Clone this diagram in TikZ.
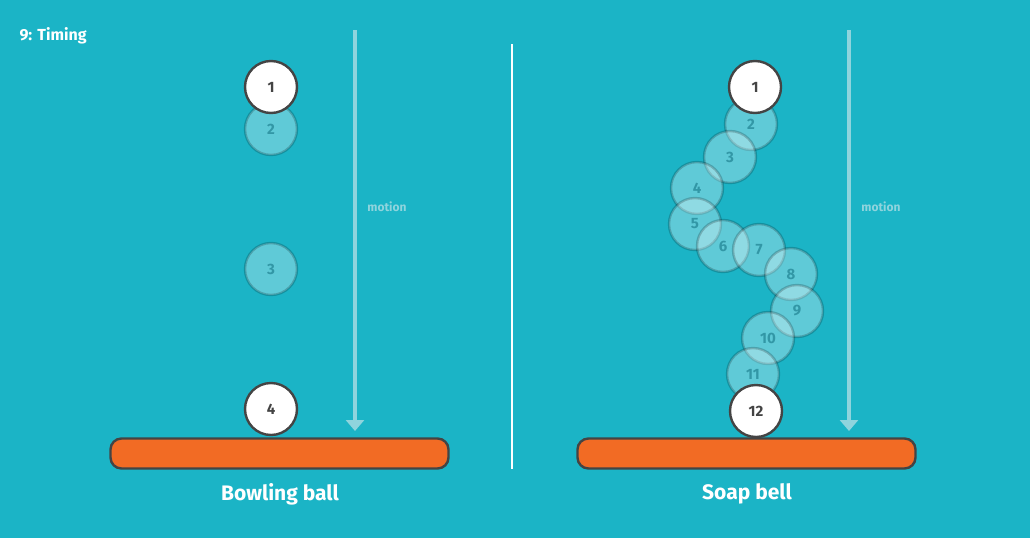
\documentclass[tikz,border=0pt]{standalone}
\usepackage{fontspec}
\setmainfont{Fira Sans}
\usetikzlibrary{arrows.meta}
\definecolor{bg}{HTML}{1BB4C6}
\definecolor{ink}{HTML}{444444}
\definecolor{fadetxt}{HTML}{3297A6}
\definecolor{arrowc}{HTML}{8FD4DD}
\definecolor{plat}{HTML}{F26B24}
\tikzset{
  solidball/.style={circle, draw=ink, line width=2.4pt, fill=white, minimum size=52pt, inner sep=0pt, font=\bfseries\fontsize{15}{15}\selectfont, text=ink},
  fadeball/.style={circle, draw=black, draw opacity=0.2, line width=2.4pt, fill=white, fill opacity=0.3, text opacity=1, minimum size=52pt, inner sep=0pt, font=\bfseries\fontsize{15}{15}\selectfont, text=fadetxt},
  platform/.style={draw=ink, line width=2.4pt, fill=plat, rounded corners=11pt, minimum width=338pt, minimum height=30pt, inner sep=0pt},
  motionarrow/.style={draw=arrowc, line width=3.4pt, -{Triangle[width=18pt,length=11pt]}},
  motionlbl/.style={text=arrowc, font=\bfseries\fontsize{12}{12}\selectfont},
  caption/.style={text=white, font=\bfseries\fontsize{21}{22}\selectfont},
}
\begin{document}
\begin{tikzpicture}[x=1pt,y=-1pt]
\fill[bg] (0,0) rectangle (1030,538);
\useasboundingbox (0,0) rectangle (1030,538);
\node[anchor=west, text=white, font=\bfseries\fontsize{16}{16}\selectfont] (title) at (16,36) {9: Timing};
% divider
\coordinate (dtop) at (512,44);
\coordinate (dbot) at (512,469);
\draw[white, line width=2.6pt] (dtop) -- (dbot);
% left
\coordinate (la) at (355,30);
\coordinate (lb) at (355,431);
\draw[motionarrow] (la) -- (lb);
\node[motionlbl] (lm) at (387,207) {motion};
\node[fadeball] (l2) at (271,129) {2};
\node[fadeball] (l3) at (271,269) {3};
\node[solidball] (l1) at (271,87) {1};
\node[solidball] (l4) at (271,409) {4};
\node[platform] (lp) at (279.5,453.5) {};
\node[caption] (lc) at (280,494) {Bowling ball};
% right
\coordinate (ra) at (849,30);
\coordinate (rb) at (849,431);
\draw[motionarrow] (ra) -- (rb);
\node[motionlbl] (rm) at (881,207) {motion};
\node[fadeball] (r2) at (751,124) {2};
\node[fadeball] (r3) at (730,157) {3};
\node[fadeball] (r4) at (697,188) {4};
\node[fadeball] (r5) at (695,224) {5};
\node[fadeball] (r6) at (723,246) {6};
\node[fadeball] (r7) at (759,250) {7};
\node[fadeball] (r8) at (791,274) {8};
\node[fadeball] (r9) at (797,311) {9};
\node[fadeball] (r10) at (768,338) {10};
\node[fadeball] (r11) at (753,374) {11};
\node[solidball] (r1) at (755,87) {1};
\node[solidball] (r12) at (756,411) {12};
\node[platform] (rp) at (746.5,453.5) {};
\node[caption] (rc) at (747,494) {Soap bell};
\end{tikzpicture}
\end{document}
